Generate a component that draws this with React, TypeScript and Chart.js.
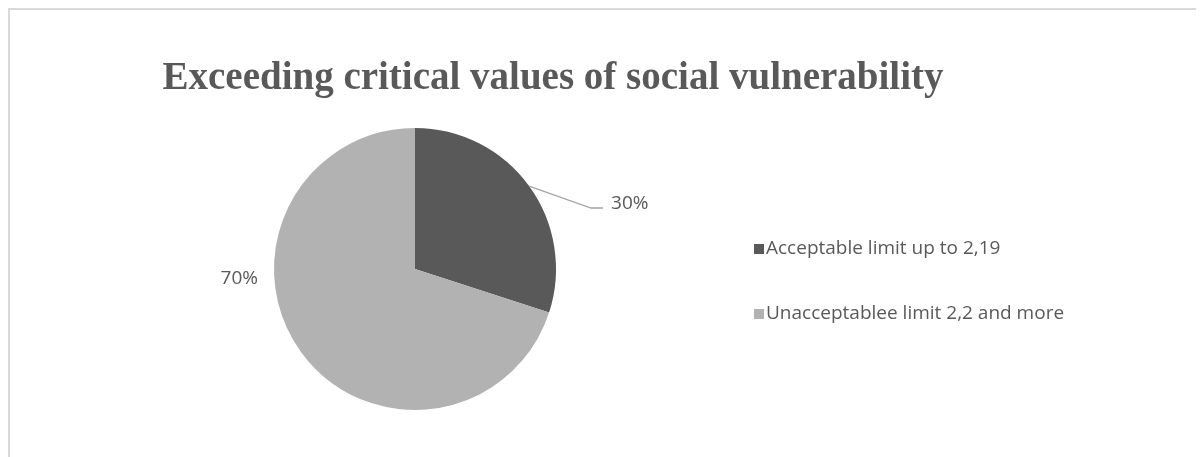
import React, { useEffect, useRef } from "react";
import { Chart, registerables } from "chart.js";

Chart.register(...registerables);

const titleText = "Exceeding critical values of social vulnerability";
const categories = ["Acceptable limit up to 2,19", "Unacceptablee limit 2,2 and more"];
const values = [30, 70];
const colors = ["#595959", "#b2b2b2"];

const W = 1194;
const H = 447;
const TEXT_COLOR = "#595959";
const LABEL_FONT = '19px "Open Sans"';

const overlayPlugin = {
  id: "overlay",
  afterDraw(chart: any) {
    const ctx = chart.ctx as CanvasRenderingContext2D;
    ctx.save();
    // Title
    ctx.font = 'bold 39px "Liberation Serif"';
    ctx.fillStyle = TEXT_COLOR;
    ctx.textAlign = "center";
    ctx.textBaseline = "alphabetic";
    ctx.fillText(titleText, 543, 79);

    const meta = chart.getDatasetMeta(0);
    const total = values.reduce((a, b) => a + b, 0);
    ctx.font = LABEL_FONT;
    meta.data.forEach((arc: any, i: number) => {
      const p = arc.getProps(["x", "y", "startAngle", "endAngle", "outerRadius"], true);
      const pct = Math.round((values[i] / total) * 100) + "%";
      const mid = (p.startAngle + p.endAngle) / 2;
      ctx.fillStyle = TEXT_COLOR;
      if (i === 0) {
        const x0 = p.x + Math.cos(mid) * p.outerRadius;
        const y0 = p.y + Math.sin(mid) * p.outerRadius;
        const x1 = x0 + 62;
        const y1 = y0 + 22;
        const x2 = x1 + 12;
        ctx.strokeStyle = "#a6a6a6";
        ctx.lineWidth = 1.5;
        ctx.beginPath();
        ctx.moveTo(x0, y0);
        ctx.lineTo(x1, y1);
        ctx.lineTo(x2, y1);
        ctx.stroke();
        ctx.textAlign = "left";
        ctx.textBaseline = "middle";
        ctx.fillText(pct, x2 + 8, y1 - 5);
      } else {
        ctx.textAlign = "right";
        ctx.textBaseline = "middle";
        ctx.fillText(pct, p.x - p.outerRadius - 16, p.y + 10);
      }
    });

    // Legend
    const legendX = 744;
    const legendY = [239, 304];
    categories.forEach((c, i) => {
      ctx.fillStyle = colors[i];
      ctx.fillRect(legendX, legendY[i] - 5, 10, 10);
      ctx.fillStyle = TEXT_COLOR;
      ctx.textAlign = "left";
      ctx.textBaseline = "middle";
      ctx.font = LABEL_FONT;
      ctx.fillText(c, legendX + 12, legendY[i]);
    });
    ctx.restore();
  },
};

export default function App() {
  const ref = useRef<HTMLCanvasElement>(null);
  useEffect(() => {
    if (!ref.current) return;
    const chart = new Chart(ref.current, {
      type: "pie",
      data: {
        labels: categories,
        datasets: [
          {
            data: values,
            backgroundColor: colors,
            borderWidth: 0,
          },
        ],
      },
      options: {
        responsive: false,
        animation: false,
        layout: { padding: { left: 264, right: 648, top: 118, bottom: 47 } },
        plugins: {
          legend: { display: false },
          title: { display: false },
          tooltip: { enabled: false },
        },
      },
      plugins: [overlayPlugin],
    });
    return () => chart.destroy();
  }, []);
  return (
    <div
      style={{
        width: W,
        height: H,
        borderTop: "2px solid #d9d9d9",
        borderLeft: "2px solid #d9d9d9",
        background: "#fff",
      }}
    >
      <canvas ref={ref} width={W} height={H} style={{ display: "block", width: W, height: H }} />
    </div>
  );
}
